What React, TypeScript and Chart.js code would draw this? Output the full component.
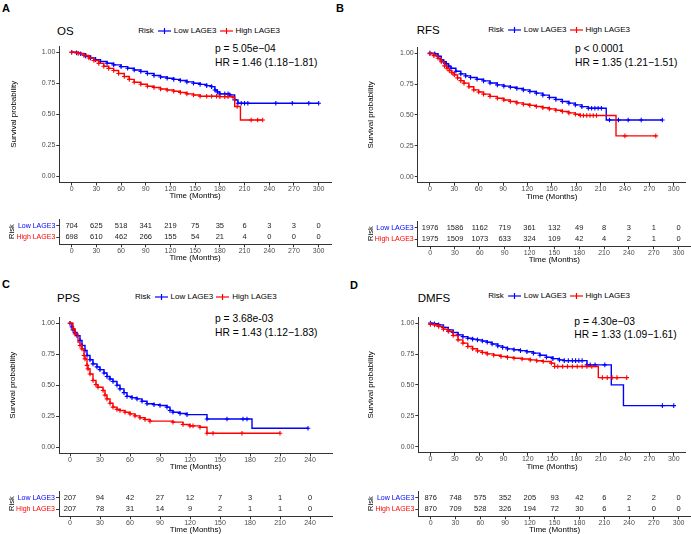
import React, { useEffect, useRef } from 'react';
import { Chart, registerables } from 'chart.js';
Chart.register(...registerables);

const FONT = '"Liberation Sans", Arial, Helvetica, sans-serif';
const BLUE = '#0000FF';
const RED = '#FF0000';

const groupLabels = ['Low LAGE3', 'High LAGE3'];
const survTicks = [0, 0.25, 0.5, 0.75, 1];
const timeTicks300 = [0, 30, 60, 90, 120, 150, 180, 210, 240, 270, 300];
const timeTicks240 = [0, 30, 60, 90, 120, 150, 180, 210, 240];

// ---- OS ----
const osLowTime = [0, 6, 11, 17, 23, 29, 35, 43, 51, 60, 68, 76, 84, 92, 100, 108, 116, 124, 132, 140, 148, 156, 164, 170, 174, 177, 180, 192, 198, 202, 300];
const osLowSurv = [1, 0.995, 0.987, 0.97, 0.954, 0.94, 0.925, 0.911, 0.898, 0.884, 0.871, 0.857, 0.844, 0.828, 0.812, 0.8, 0.79, 0.781, 0.772, 0.761, 0.75, 0.741, 0.731, 0.723, 0.696, 0.68, 0.664, 0.656, 0.616, 0.589, 0.589];
const osLowCensTime = [186, 190, 206, 210, 214, 248, 268, 288];
const osLowCensSurv = [0.664, 0.664, 0.589, 0.589, 0.589, 0.589, 0.589, 0.589];
const osHighTime = [0, 8, 15, 21, 27, 33, 39, 45, 51, 57, 64, 70, 76, 84, 92, 100, 108, 116, 124, 132, 140, 148, 156, 180, 196, 198, 205, 232];
const osHighSurv = [1, 0.99, 0.973, 0.953, 0.933, 0.91, 0.887, 0.87, 0.852, 0.828, 0.804, 0.781, 0.758, 0.742, 0.726, 0.715, 0.704, 0.695, 0.685, 0.675, 0.664, 0.655, 0.645, 0.642, 0.637, 0.562, 0.454, 0.454];
const osHighCensTime = [164, 170, 176, 186, 190, 201, 218, 226];
const osHighCensSurv = [0.645, 0.645, 0.645, 0.642, 0.642, 0.562, 0.454, 0.454];
const osRiskLow = [704, 625, 518, 341, 219, 75, 35, 6, 3, 3, 0];
const osRiskHigh = [698, 610, 462, 266, 155, 54, 21, 4, 0, 0, 0];

// ---- RFS ----
const rfsLowTime = [0, 6, 10, 14, 17, 20, 23, 26, 32, 38, 44, 50, 58, 66, 74, 83, 91, 99, 107, 115, 123, 131, 139, 147, 155, 163, 171, 179, 187, 195, 217, 286];
const rfsLowSurv = [1, 0.995, 0.975, 0.946, 0.93, 0.914, 0.895, 0.878, 0.853, 0.832, 0.816, 0.803, 0.789, 0.776, 0.759, 0.743, 0.733, 0.724, 0.714, 0.703, 0.69, 0.676, 0.66, 0.641, 0.625, 0.608, 0.595, 0.581, 0.567, 0.554, 0.459, 0.459];
const rfsLowCensTime = [199, 203, 207, 211, 221, 232, 244, 260];
const rfsLowCensSurv = [0.554, 0.554, 0.554, 0.554, 0.459, 0.459, 0.459, 0.459];
const rfsHighTime = [0, 5, 10, 14, 18, 21, 24, 27, 30, 34, 38, 42, 48, 54, 60, 66, 74, 83, 91, 99, 107, 115, 123, 131, 139, 147, 155, 163, 171, 179, 185, 229, 278];
const rfsHighSurv = [0.995, 0.98, 0.959, 0.93, 0.897, 0.878, 0.859, 0.841, 0.824, 0.8, 0.778, 0.757, 0.728, 0.703, 0.685, 0.668, 0.65, 0.635, 0.621, 0.608, 0.597, 0.586, 0.577, 0.568, 0.558, 0.549, 0.538, 0.527, 0.516, 0.505, 0.495, 0.33, 0.33];
const rfsHighCensTime = [189, 193, 197, 201, 205, 240];
const rfsHighCensSurv = [0.495, 0.495, 0.495, 0.495, 0.495, 0.33];
const rfsRiskLow = [1976, 1586, 1162, 719, 361, 132, 49, 8, 3, 1, 0];
const rfsRiskHigh = [1975, 1509, 1073, 633, 324, 109, 42, 4, 2, 1, 0];

// ---- PPS ----
const ppsLowTime = [0, 2, 3, 5, 7, 10, 12, 15, 17, 20, 23, 27, 30, 34, 37, 40, 43, 47, 50, 54, 57, 62, 67, 72, 77, 84, 90, 97, 100, 103, 110, 117, 137, 182, 238];
const ppsLowSurv = [1, 0.97, 0.946, 0.925, 0.9, 0.86, 0.82, 0.78, 0.74, 0.705, 0.672, 0.648, 0.626, 0.598, 0.57, 0.55, 0.53, 0.5, 0.47, 0.44, 0.41, 0.4, 0.39, 0.37, 0.35, 0.343, 0.336, 0.323, 0.296, 0.282, 0.272, 0.263, 0.228, 0.153, 0.153];
const ppsLowCensTime = [157, 173, 177];
const ppsLowCensSurv = [0.228, 0.228, 0.228];
const ppsHighTime = [0, 3, 5, 8, 10, 12, 14, 15, 17, 18, 20, 23, 26, 28, 33, 35, 37, 40, 43, 47, 50, 55, 60, 65, 70, 75, 80, 103, 113, 120, 130, 137, 210];
const ppsHighSurv = [1, 0.955, 0.914, 0.847, 0.82, 0.793, 0.74, 0.712, 0.66, 0.632, 0.59, 0.538, 0.505, 0.484, 0.457, 0.42, 0.39, 0.355, 0.323, 0.305, 0.296, 0.282, 0.269, 0.253, 0.237, 0.223, 0.21, 0.202, 0.183, 0.172, 0.161, 0.113, 0.113];
const ppsHighCensTime = [123, 143, 172];
const ppsHighCensSurv = [0.172, 0.113, 0.113];
const ppsRiskLow = [207, 94, 42, 27, 12, 7, 3, 1, 0];
const ppsRiskHigh = [207, 78, 31, 14, 9, 2, 1, 1, 0];

// ---- DMFS ----
const dmfsLowTime = [0, 5, 10, 16, 22, 28, 34, 40, 46, 52, 58, 64, 70, 76, 83, 89, 95, 103, 111, 119, 127, 135, 143, 151, 159, 165, 193, 223, 238, 300];
const dmfsLowSurv = [1, 0.995, 0.986, 0.966, 0.946, 0.925, 0.905, 0.891, 0.878, 0.871, 0.865, 0.856, 0.846, 0.831, 0.816, 0.804, 0.792, 0.785, 0.778, 0.768, 0.757, 0.74, 0.724, 0.713, 0.703, 0.697, 0.662, 0.5, 0.332, 0.332];
const dmfsLowCensTime = [170, 175, 179, 183, 187, 197, 203, 215, 286];
const dmfsLowCensSurv = [0.697, 0.697, 0.697, 0.697, 0.697, 0.662, 0.662, 0.662, 0.332];
const dmfsHighTime = [0, 5, 10, 16, 22, 28, 34, 40, 46, 52, 58, 64, 70, 78, 87, 95, 103, 113, 123, 131, 139, 149, 153, 207, 242];
const dmfsHighSurv = [0.99, 0.985, 0.973, 0.952, 0.932, 0.9, 0.865, 0.838, 0.811, 0.793, 0.776, 0.763, 0.751, 0.74, 0.73, 0.723, 0.716, 0.71, 0.703, 0.696, 0.689, 0.676, 0.649, 0.559, 0.559];
const dmfsHighCensTime = [157, 163, 169, 175, 181, 187, 193, 199, 212, 218, 224, 230];
const dmfsHighCensSurv = [0.649, 0.649, 0.649, 0.649, 0.649, 0.649, 0.649, 0.649, 0.559, 0.559, 0.559, 0.559];
const dmfsRiskLow = [876, 748, 575, 352, 205, 93, 42, 6, 2, 2, 0];
const dmfsRiskHigh = [870, 709, 528, 326, 194, 72, 30, 6, 1, 0, 0];

type Curve = { t: number[]; s: number[]; ct: number[]; cs: number[] };
type PanelData = {
  letter: string; title: string; pText: string; hrText: string;
  low: Curve; high: Curve; ticks: number[]; riskLow: number[]; riskHigh: number[];
};
type Layout = {
  left: number; width: number; axisX: number; plotRight: number; plotTop: number; plotBottom: number;
  kmTitleY: number; yTitleX: number; tableHighY: number; tableTitleY: number; riskTitleX: number;
  letterX: number; letterY: number; titleX: number; titleY: number; legendX: number; legendY: number;
  pX: number; pY: number; hrY: number; xMin: number; xMax: number;
};

const panels: { d: PanelData; L: Layout }[] = [
  {
    d: { letter: 'A', title: 'OS', pText: 'p = 5.05e−04', hrText: 'HR = 1.46 (1.18−1.81)',
      low: { t: osLowTime, s: osLowSurv, ct: osLowCensTime, cs: osLowCensSurv },
      high: { t: osHighTime, s: osHighSurv, ct: osHighCensTime, cs: osHighCensSurv },
      ticks: timeTicks300, riskLow: osRiskLow, riskHigh: osRiskHigh },
    L: { left: 0, width: 345, axisX: 59.3, plotRight: 331, plotTop: 45.5, plotBottom: 182, kmTitleY: 195.5, yTitleX: 13.3,
      tableHighY: 237.5, tableTitleY: 258.3, riskTitleX: 12.2, letterX: 2, letterY: 8.8, titleX: 57, titleY: 31.3,
      legendX: 138.3, legendY: 30.7, pX: 215, pY: 48.7, hrY: 63.3, xMin: -15, xMax: 315 },
  },
  {
    d: { letter: 'B', title: 'RFS', pText: 'p < 0.0001', hrText: 'HR = 1.35 (1.21−1.51)',
      low: { t: rfsLowTime, s: rfsLowSurv, ct: rfsLowCensTime, cs: rfsLowCensSurv },
      high: { t: rfsHighTime, s: rfsHighSurv, ct: rfsHighCensTime, cs: rfsHighCensSurv },
      ticks: timeTicks300, riskLow: rfsRiskLow, riskHigh: rfsRiskHigh },
    L: { left: 345, width: 346, axisX: 417.7, plotRight: 691, plotTop: 47.1, plotBottom: 182.9, kmTitleY: 197.3, yTitleX: 371,
      tableHighY: 239, tableTitleY: 260, riskTitleX: 370.5, letterX: 336, letterY: 8.8, titleX: 416.7, titleY: 30.5,
      legendX: 488.3, legendY: 30, pX: 575, pY: 48.8, hrY: 63, xMin: -15, xMax: 315 },
  },
  {
    d: { letter: 'C', title: 'PPS', pText: 'p = 3.68e-03', hrText: 'HR = 1.43 (1.12−1.83)',
      low: { t: ppsLowTime, s: ppsLowSurv, ct: ppsLowCensTime, cs: ppsLowCensSurv },
      high: { t: ppsHighTime, s: ppsHighSurv, ct: ppsHighCensTime, cs: ppsHighCensSurv },
      ticks: timeTicks240, riskLow: ppsRiskLow, riskHigh: ppsRiskHigh },
    L: { left: 0, width: 345, axisX: 59, plotRight: 332, plotTop: 316.5, plotBottom: 452.9, kmTitleY: 466, yTitleX: 13,
      tableHighY: 509.3, tableTitleY: 530, riskTitleX: 12.2, letterX: 2, letterY: 284.7, titleX: 57, titleY: 298.7,
      legendX: 135, legendY: 297.3, pX: 215, pY: 318.7, hrY: 333, xMin: -11, xMax: 262 },
  },
  {
    d: { letter: 'D', title: 'DMFS', pText: 'p = 4.30e−03', hrText: 'HR = 1.33 (1.09−1.61)',
      low: { t: dmfsLowTime, s: dmfsLowSurv, ct: dmfsLowCensTime, cs: dmfsLowCensSurv },
      high: { t: dmfsHighTime, s: dmfsHighSurv, ct: dmfsHighCensTime, cs: dmfsHighCensSurv },
      ticks: timeTicks300, riskLow: dmfsRiskLow, riskHigh: dmfsRiskHigh },
    L: { left: 345, width: 346, axisX: 418.3, plotRight: 691, plotTop: 317.1, plotBottom: 452.9, kmTitleY: 467.3, yTitleX: 371,
      tableHighY: 509.3, tableTitleY: 530, riskTitleX: 370.5, letterX: 350, letterY: 285, titleX: 417.7, titleY: 299.2,
      legendX: 488.3, legendY: 295.7, pX: 574.3, pY: 322.5, hrY: 335.5, xMin: -15, xMax: 315 },
  },
];

const AXIS = '#333333';
const TICKTXT = '#4d4d4d';

function axisCommon() {
  return {
    grid: { display: true, drawOnChartArea: false, drawTicks: true, tickLength: 3, color: AXIS, tickWidth: 1 },
    border: { display: true, color: AXIS, width: 1 },
  };
}

function curveDatasets(c: Curve, color: string) {
  return [
    {
      data: c.t.map((t, i) => ({ x: t, y: c.s[i] })),
      showLine: true, stepped: true, borderColor: color, backgroundColor: color, borderWidth: 1.4,
      pointStyle: 'cross', pointBorderColor: color, pointBackgroundColor: color, pointBorderWidth: 1.1,
      pointRadius: (ctx: any) => {
        const i = ctx.dataIndex; const d = ctx.dataset.data;
        if (i > 0 && d[i - 1].y - d[i].y > 0.06) return 0;
        return 2.3;
      },
    },
    {
      data: c.ct.map((t, i) => ({ x: t, y: c.cs[i] })),
      showLine: false, borderColor: color, backgroundColor: color,
      pointStyle: 'cross', pointBorderColor: color, pointBorderWidth: 1.1, pointRadius: 2.3,
    },
  ];
}

function KMChart({ d, L }: { d: PanelData; L: Layout }) {
  const ref = useRef<HTMLCanvasElement>(null);
  const top = L.plotTop - 6;
  const h = Math.round(L.kmTitleY + 5 - top);
  useEffect(() => {
    const chart = new Chart(ref.current!, {
      type: 'scatter',
      data: { datasets: [...curveDatasets(d.high, RED), ...curveDatasets(d.low, BLUE)] as any },
      options: {
        animation: false, responsive: false, maintainAspectRatio: false, events: [],
        layout: { padding: { left: 0, top: 6, right: L.left + L.width - L.plotRight, bottom: 0 } },
        plugins: { legend: { display: false }, tooltip: { enabled: false } },
        scales: {
          x: {
            type: 'linear', min: L.xMin, max: L.xMax, ...axisCommon(),
            afterBuildTicks: (s: any) => { s.ticks = d.ticks.map((v) => ({ value: v })); },
            afterFit: (s: any) => { s.height = h - (L.plotBottom - top); },
            ticks: { color: TICKTXT, font: { family: FONT, size: 7, lineHeight: 1 }, padding: 0, maxRotation: 0, autoSkip: false },
            title: { display: true, text: 'Time (Months)', color: '#000', font: { family: FONT, size: 8, lineHeight: 1 }, padding: { top: 0, bottom: 1 } },
          },
          y: {
            type: 'linear', min: -0.05, max: 1.05, ...axisCommon(),
            afterBuildTicks: (s: any) => { s.ticks = survTicks.map((v) => ({ value: v })); },
            afterFit: (s: any) => { s.width = L.axisX - L.left; },
            ticks: { color: TICKTXT, font: { family: FONT, size: 7, lineHeight: 1 }, padding: 1, callback: (v: any) => Number(v).toFixed(2) },
            title: { display: true, text: 'Survival probability', color: '#000', font: { family: FONT, size: 8, lineHeight: 1 }, padding: { top: L.yTitleX - L.left - 4, bottom: 0 } },
          },
        },
      } as any,
    });
    return () => chart.destroy();
  }, []);
  return (
    <canvas ref={ref} width={L.width} height={h}
      style={{ position: 'absolute', left: L.left, top, width: L.width, height: h }} />
  );
}

function RiskTable({ d, L }: { d: PanelData; L: Layout }) {
  const ref = useRef<HTMLCanvasElement>(null);
  const rowGap = 11.5;
  const plotBottom = L.tableHighY + 0.6 * rowGap;
  const plotTop = plotBottom - 2.2 * rowGap;
  const top = plotTop - 6;
  const h = Math.round(L.tableTitleY + 5 - top);
  useEffect(() => {
    const numbers = {
      id: 'riskNumbers',
      afterDatasetsDraw(chart: any) {
        const { ctx, scales } = chart;
        ctx.save();
        ctx.font = `7.5px ${FONT}`;
        ctx.fillStyle = '#1a1a1a';
        ctx.textAlign = 'center';
        ctx.textBaseline = 'middle';
        d.ticks.forEach((t, i) => {
          const x = scales.x.getPixelForValue(t);
          ctx.fillText(String(d.riskLow[i]), x, scales.y.getPixelForValue(2));
          ctx.fillText(String(d.riskHigh[i]), x, scales.y.getPixelForValue(1));
        });
        ctx.restore();
      },
    };
    const chart = new Chart(ref.current!, {
      type: 'scatter',
      data: { datasets: [] },
      options: {
        animation: false, responsive: false, maintainAspectRatio: false, events: [],
        layout: { padding: { left: 0, top: 6, right: L.left + L.width - L.plotRight, bottom: 0 } },
        plugins: { legend: { display: false }, tooltip: { enabled: false } },
        scales: {
          x: {
            type: 'linear', min: L.xMin, max: L.xMax, ...axisCommon(),
            afterBuildTicks: (s: any) => { s.ticks = d.ticks.map((v) => ({ value: v })); },
            afterFit: (s: any) => { s.height = h - (plotBottom - top); },
            ticks: { color: TICKTXT, font: { family: FONT, size: 7, lineHeight: 1 }, padding: 0, maxRotation: 0, autoSkip: false },
            title: { display: true, text: 'Time (Months)', color: '#000', font: { family: FONT, size: 8, lineHeight: 1 }, padding: { top: 0, bottom: 1 } },
          },
          y: {
            type: 'linear', min: 0.4, max: 2.6, ...axisCommon(),
            afterBuildTicks: (s: any) => { s.ticks = [{ value: 1 }, { value: 2 }]; },
            afterFit: (s: any) => { s.width = L.axisX - L.left; },
            ticks: {
              color: (c: any) => (c.tick && c.tick.value === 2 ? BLUE : RED),
              font: { family: FONT, size: 7, lineHeight: 1 }, padding: 1,
              callback: (v: any) => (Number(v) === 2 ? groupLabels[0] : groupLabels[1]),
            },
            title: { display: true, text: 'Risk', color: '#000', font: { family: FONT, size: 7.5, lineHeight: 1 }, padding: { top: L.riskTitleX - L.left - 3.75, bottom: 0 } },
          },
        },
      } as any,
      plugins: [numbers],
    });
    return () => chart.destroy();
  }, []);
  return (
    <canvas ref={ref} width={L.width} height={h}
      style={{ position: 'absolute', left: L.left, top, width: L.width, height: h }} />
  );
}

function Sym({ color }: { color: string }) {
  return (
    <svg width={13} height={8} style={{ display: 'block' }}>
      <line x1={0} y1={4} x2={13} y2={4} stroke={color} strokeWidth={1.2} />
      <line x1={6.5} y1={1} x2={6.5} y2={7} stroke={color} strokeWidth={1.2} />
    </svg>
  );
}

function txt(x: number, cy: number, size: number, extra: any = {}) {
  return {
    position: 'absolute' as const, left: x, top: cy - size / 2, fontSize: size, lineHeight: `${size}px`,
    fontFamily: FONT, whiteSpace: 'nowrap' as const, color: '#000', ...extra,
  };
}

function Panel({ d, L }: { d: PanelData; L: Layout }) {
  return (
    <>
      <div style={txt(L.letterX, L.letterY, 11, { fontWeight: 'bold' })}>{d.letter}</div>
      <div style={txt(L.titleX, L.titleY, 11.5)}>{d.title}</div>
      <div style={{ ...txt(L.legendX, L.legendY, 8), display: 'flex', alignItems: 'center', height: 8 }}>
        <span style={{ marginRight: 4 }}>Risk</span>
        <Sym color={BLUE} />
        <span style={{ marginLeft: 3, marginRight: 3 }}>{groupLabels[0]}</span>
        <Sym color={RED} />
        <span style={{ marginLeft: 3 }}>{groupLabels[1]}</span>
      </div>
      <div style={txt(L.pX, L.pY, 10.3)}>{d.pText}</div>
      <div style={txt(L.pX, L.hrY, 10.3)}>{d.hrText}</div>
      <KMChart d={d} L={L} />
      <RiskTable d={d} L={L} />
    </>
  );
}

export default function App() {
  return (
    <div style={{ position: 'absolute', left: 0, top: 0, width: 691, height: 534, overflow: 'hidden', background: '#fff' }}>
      {panels.map((p) => <Panel key={p.d.letter} d={p.d} L={p.L} />)}
    </div>
  );
}
